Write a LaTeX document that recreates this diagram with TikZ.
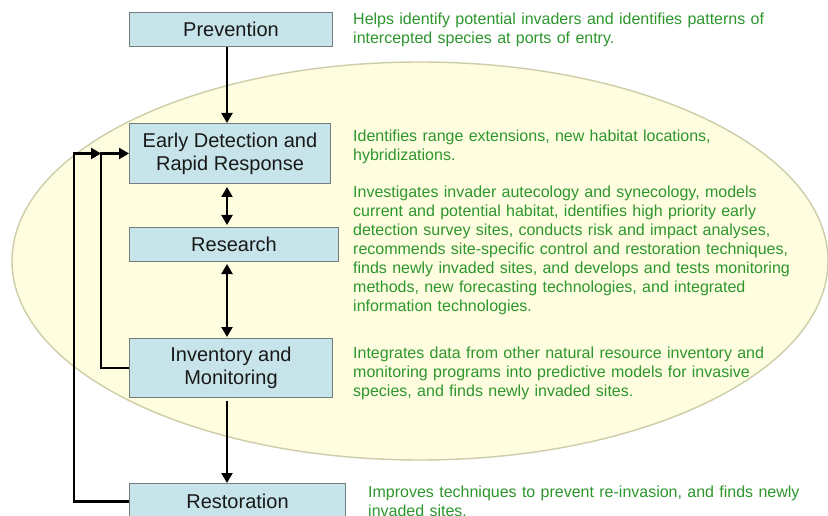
\documentclass[tikz,border=0pt]{standalone}
\usepackage{fontspec}
\setmainfont{Liberation Sans}
\usetikzlibrary{arrows.meta}
\definecolor{boxfill}{RGB}{198,228,233}
\definecolor{boxline}{RGB}{115,125,125}
\definecolor{zonefill}{RGB}{255,253,224}
\definecolor{zoneline}{RGB}{205,205,168}
\definecolor{notegreen}{RGB}{45,150,45}
\tikzset{
  stage/.style  = {draw=boxline, fill=boxfill, line width=1pt, anchor=north west,
                   inner sep=0pt, align=center, text=black!90,
                   font=\fontsize{20}{23}\selectfont},
  flow/.style   = {-{Triangle[length=10pt,width=11pt]}, line width=2.2pt, black},
  twoway/.style = {{Triangle[length=10pt,width=11pt]}-{Triangle[length=10pt,width=11pt]},
                   line width=2.2pt, black},
  zone/.style   = {draw=zoneline, fill=zonefill, line width=1.4pt},
  note/.style   = {anchor=base west, inner sep=0pt, text width=470pt, align=left,
                   text=notegreen, font=\fontsize{16}{19}\selectfont},
}

\begin{document}
\begin{tikzpicture}[x=1pt, y=-1pt]
  \useasboundingbox (0,0) rectangle (828,516);
  \clip (0,0) rectangle (828,516);
  \fill[white] (0,0) rectangle (828,516);
  \draw[zone] (420,261) ellipse [x radius=408pt, y radius=199pt];

  \node[stage, minimum width=203pt, minimum height=34pt] (prev) at (129,12) {Prevention};
  \node[stage, minimum width=201pt, minimum height=60pt] (edrr) at (129,123) {Early Detection and\\Rapid Response};
  \node[stage, minimum width=209pt, minimum height=34pt] (res)  at (129,227) {Research};
  \node[stage, minimum width=203pt, minimum height=59pt] (inv)  at (129,338) {Inventory and\\Monitoring};
  \node[stage, minimum width=216pt, minimum height=36pt] (rest) at (129,483) {Restoration};

  \coordinate (spine) at (227,0);
  \coordinate (outerloop) at (74,0);
  \coordinate (innerloop) at (101,0);

  \draw[flow] (prev.south -| spine) -- (edrr.north -| spine);
  \draw[twoway, shorten <=3pt, shorten >=2pt] (edrr.south -| spine) -- (res.north -| spine);
  \draw[twoway, shorten <=2pt, shorten >=1pt] (res.south -| spine) -- (inv.north -| spine);
  \draw[flow, shorten <=3pt] (inv.south -| spine) -- (rest.north -| spine);
  \draw[flow] (inv.west) -| (innerloop |- edrr.west) -- (edrr.west);
  \draw[flow] (rest.west) -| (outerloop |- edrr.west) -- (innerloop |- edrr.west);

  \node[note] (prevnote) at (353,25) {Helps identify potential invaders and identifies patterns of\\intercepted species at ports of entry.};
  \node[note] (edrrnote) at (353,142) {Identifies range extensions, new habitat locations,\\hybridizations.};
  \node[note] (resnote)  at (353,198) {Investigates invader autecology and synecology, models\\current and potential habitat, identifies high priority early\\detection survey sites, conducts risk and impact analyses,\\recommends site-specific control and restoration techniques,\\finds newly invaded sites, and develops and tests monitoring\\methods, new forecasting technologies, and integrated\\information technologies.};
  \node[note] (invnote)  at (353,358) {Integrates data from other natural resource inventory and\\monitoring programs into predictive models for invasive\\species, and finds newly invaded sites.};
  \node[note] (restnote) at (368,497) {Improves techniques to prevent re-invasion, and finds newly\\invaded sites.};
\end{tikzpicture}
\end{document}
